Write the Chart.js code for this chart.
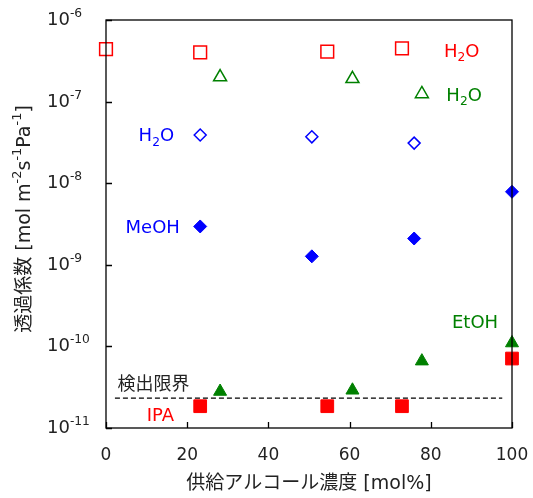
<html>
  <head>
    <title>透過係数</title>
    <style>
      body { margin: 0; background: #fff; }
    </style>
  </head>
  <body>
    <canvas id="myChart" width="533" height="498"></canvas>
  </body>
</html>

<script src="https://cdn.jsdelivr.net/npm/chart.js"></script>
<script>
  // feed alcohol concentration [mol%] and permeance [mol m-2 s-1 Pa-1]
  var ipaH2oX = [0, 23.2, 54.5, 72.9];
  var ipaH2oY = [4.4e-7, 4.0e-7, 4.1e-7, 4.5e-7];
  var etohH2oX = [28.1, 60.7, 77.8];
  var etohH2oY = [2.0e-7, 1.9e-7, 1.24e-7];
  var meohH2oX = [23.2, 50.7, 75.9];
  var meohH2oY = [3.9e-8, 3.7e-8, 3.1e-8];
  var meohX = [23.2, 50.7, 75.9, 100];
  var meohY = [2.95e-9, 1.27e-9, 2.1e-9, 7.85e-9];
  var etohX = [28.1, 60.7, 77.8, 100];
  var etohY = [2.8e-11, 2.9e-11, 6.6e-11, 1.1e-10];
  var ipaX = [23.2, 54.5, 72.9, 100];
  var ipaY = [1.85e-11, 1.85e-11, 1.85e-11, 7.1e-11];
  var limitX = [2.2, 97.6];
  var limitY = [2.32e-11, 2.32e-11];

  var xTicks = [0, 20, 40, 60, 80, 100];
  var yTickExps = [-11, -10, -9, -8, -7, -6];

  var RED = '#ff0000', GREEN = '#008000', BLUE = '#0000ff';
  var FONT = "'DejaVu Sans', 'Noto Sans CJK JP', sans-serif";

  // text labels placed in data coordinates
  var notes = [
    { parts: [['H', 0], ['2', -1], ['O', 0]], x: 87.6, y: 4.3e-7, color: RED },
    { parts: [['H', 0], ['2', -1], ['O', 0]], x: 88.2, y: 1.24e-7, color: GREEN },
    { parts: [['H', 0], ['2', -1], ['O', 0]], x: 12.4, y: 4.0e-8, color: BLUE },
    { parts: [['MeOH', 0]], x: 11.5, y: 2.95e-9, color: BLUE },
    { parts: [['EtOH', 0]], x: 90.9, y: 2.03e-10, color: GREEN },
    { parts: [['検出限界', 0]], x: 11.7, y: 3.57e-11, color: '#222' },
    { parts: [['IPA', 0]], x: 13.4, y: 1.49e-11, color: RED }
  ];

  function pts(xs, ys) {
    return xs.map(function (x, i) { return { x: x, y: ys[i] }; });
  }

  // draw text made of normal(0)/sup(1)/sub(-1) pieces
  function drawRich(ctx, parts, x, y, size, align) {
    var small = size * 0.68;
    var w = 0;
    parts.forEach(function (p) {
      ctx.font = (p[1] === 0 ? size : small) + 'px ' + FONT;
      w += ctx.measureText(p[0]).width;
    });
    var cx = align === 'center' ? x - w / 2 : x;
    ctx.textAlign = 'left';
    ctx.textBaseline = 'alphabetic';
    parts.forEach(function (p) {
      ctx.font = (p[1] === 0 ? size : small) + 'px ' + FONT;
      var dy = p[1] === 1 ? -size * 0.45 : (p[1] === -1 ? size * 0.25 : 0);
      ctx.fillText(p[0], cx, y + dy);
      cx += ctx.measureText(p[0]).width;
    });
  }

  var decorPlugin = {
    id: 'decor',
    afterDatasetsDraw: function (chart) {
      var ctx = chart.ctx;
      var a = chart.chartArea;
      var xs = chart.scales.x, ys = chart.scales.y;
      ctx.save();
      ctx.strokeStyle = '#000';
      ctx.lineWidth = 1.3;
      ctx.strokeRect(a.left, a.top, a.right - a.left, a.bottom - a.top);

      // inward ticks
      ctx.beginPath();
      xTicks.forEach(function (v) {
        var px = Math.round(xs.getPixelForValue(v)) + 0.5;
        ctx.moveTo(px, a.bottom);
        ctx.lineTo(px, a.bottom - 6);
      });
      yTickExps.forEach(function (e) {
        var py = Math.round(ys.getPixelForValue(Math.pow(10, e))) + 0.5;
        ctx.moveTo(a.left, py);
        ctx.lineTo(a.left + 6, py);
      });
      ctx.stroke();

      ctx.fillStyle = '#222';
      // x tick labels
      ctx.font = '17px ' + FONT;
      ctx.textAlign = 'center';
      ctx.textBaseline = 'middle';
      xTicks.forEach(function (v) {
        ctx.fillText(String(v), xs.getPixelForValue(v), 456);
      });
      // y tick labels
      yTickExps.forEach(function (e) {
        var py = ys.getPixelForValue(Math.pow(10, e));
        drawRich(ctx, [['10', 0], [String(e), 1]], 47, py + 5, 18, 'left');
      });
      // axis titles
      ctx.font = '19px ' + FONT;
      ctx.textAlign = 'center';
      ctx.textBaseline = 'middle';
      ctx.fillText('供給アルコール濃度 [mol%]', (a.left + a.right) / 2, 484);

      ctx.save();
      ctx.translate(30, (a.top + a.bottom) / 2 - 5);
      ctx.rotate(-Math.PI / 2);
      drawRich(ctx, [['透過係数 [mol m', 0], ['-2', 1], ['s', 0], ['-1', 1], ['Pa', 0], ['-1', 1], [']', 0]], 0, 0, 19, 'center');
      ctx.restore();

      // annotations
      notes.forEach(function (n) {
        ctx.fillStyle = n.color;
        drawRich(ctx, n.parts, xs.getPixelForValue(n.x), ys.getPixelForValue(n.y) + 7, 18, 'center');
      });
      ctx.restore();
    }
  };

  function markerSet(label, data, style, color, filled, radius) {
    return {
      label: label,
      data: data,
      pointStyle: style,
      pointRadius: radius,
      pointBorderColor: color,
      pointBackgroundColor: filled ? color : 'rgba(0,0,0,0)',
      pointBorderWidth: filled ? 1 : 1.5,
      showLine: false,
      clip: false
    };
  }

  const ctx = document.getElementById('myChart').getContext('2d');
  const myChart = new Chart(ctx, {
    type: 'scatter',
    data: {
      datasets: [
        {
          label: '検出限界',
          data: pts(limitX, limitY),
          showLine: true,
          borderColor: '#000',
          borderWidth: 1.3,
          borderDash: [5, 3],
          pointRadius: 0
        },
        markerSet('H2O (IPA)', pts(ipaH2oX, ipaH2oY), 'rect', RED, false, 9),
        markerSet('H2O (EtOH)', pts(etohH2oX, etohH2oY), 'triangle', GREEN, false, 7.5),
        markerSet('H2O (MeOH)', pts(meohH2oX, meohH2oY), 'rectRot', BLUE, false, 6),
        markerSet('MeOH', pts(meohX, meohY), 'rectRot', BLUE, true, 6.5),
        markerSet('EtOH', pts(etohX, etohY), 'triangle', GREEN, true, 7.5),
        markerSet('IPA', pts(ipaX, ipaY), 'rect', RED, true, 9)
      ]
    },
    options: {
      responsive: false,
      animation: false,
      layout: { padding: { left: 106, top: 20, right: 21, bottom: 70 } },
      plugins: {
        legend: { display: false },
        tooltip: { enabled: false }
      },
      scales: {
        x: {
          type: 'linear',
          min: 0,
          max: 100,
          grid: { display: false },
          border: { display: false },
          ticks: { display: false },
          afterFit: function (s) { s.height = 0; }
        },
        y: {
          type: 'logarithmic',
          min: 1e-11,
          max: 1e-6,
          grid: { display: false },
          border: { display: false },
          ticks: { display: false },
          afterFit: function (s) { s.width = 0; }
        }
      }
    },
    plugins: [decorPlugin]
  });
</script>
